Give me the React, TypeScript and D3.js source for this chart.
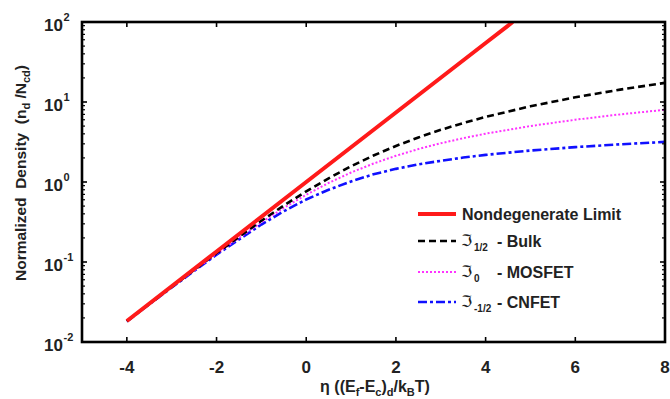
import React from "react";
import * as d3 from "d3";

const etaNondeg = [-4, -2, 0, 2, 4, 4.605];
const valNondeg = [0.0183, 0.1353, 1, 7.389, 54.6, 100];

const etaGrid = [-4, -3, -2, -1, -0.5, 0, 0.5, 1, 1.5, 2, 2.5, 3, 3.5, 4, 5, 6, 7, 8];
const valBulk = [0.0182, 0.0489, 0.1293, 0.3278, 0.5075, 0.7651, 1.112, 1.5756, 2.142, 2.8241, 3.604, 4.4881, 5.453, 6.5115, 8.844, 11.447, 14.29, 17.35];
const valMosfet = [0.0182, 0.0486, 0.1269, 0.3133, 0.4741, 0.6931, 0.9741, 1.3133, 1.7014, 2.1269, 2.5789, 3.0486, 3.5297, 4.0181, 5.0067, 6.0025, 7.0009, 8.0003];
const valCnfet = [0.0181, 0.0481, 0.1237, 0.294, 0.431, 0.6049, 0.80, 1.017, 1.25, 1.46, 1.66, 1.84, 2.02, 2.183, 2.474, 2.729, 2.958, 3.17];

const xTicks = [-4, -2, 0, 2, 4, 6, 8];
const yTickExps = [-2, -1, 0, 1, 2];

const W = 670, H = 399;
const left = 82, right = 665, top = 22, bottom = 342;

export default function App() {
  const x = d3.scaleLinear().domain([-5, 8]).range([left, right]);
  const y = d3.scaleLog().domain([1e-2, 1e2]).range([bottom, top]);
  const line = d3.line<[number, number]>().x(d => x(d[0])).y(d => y(d[1]));

  const nondeg = etaNondeg.map((e, i) => [e, valNondeg[i]] as [number, number]);
  const bulk = etaGrid.map((e, i) => [e, valBulk[i]] as [number, number]);
  const mos = etaGrid.map((e, i) => [e, valMosfet[i]] as [number, number]);
  const cn = etaGrid.map((e, i) => [e, valCnfet[i]] as [number, number]);

  const minor: number[] = [];
  for (let p = -2; p < 2; p++) for (let k = 2; k <= 9; k++) minor.push(k * Math.pow(10, p));

  const font = "Arial, 'Liberation Sans', sans-serif";
  const legendX0 = 418, legendX1 = 456, legendTextX = 462, legendDashX = 497;
  const legendRows = [214, 241, 272, 302];
  const subs = ["1/2", "0", "-1/2"];
  const names = ["- Bulk", "- MOSFET", "- CNFET"];

  return (
    <svg width={W} height={H} style={{ position: "absolute", left: 0, top: 0 }} fontFamily={font}>
      <rect x={0} y={0} width={W} height={H} fill="#fff" />
      <defs>
        <clipPath id="plot">
          <rect x={left} y={top} width={right - left} height={bottom - top} />
        </clipPath>
      </defs>
      <g clipPath="url(#plot)" fill="none">
        <path d={line(cn)!} stroke="#1010ff" strokeWidth={2.6} strokeDasharray="9,3,3,3" />
        <path d={line(mos)!} stroke="#ff33ff" strokeWidth={2} strokeDasharray="2,2" />
        <path d={line(bulk)!} stroke="#000" strokeWidth={2.6} strokeDasharray="7,4" />
        <path d={line(nondeg)!} stroke="#ff1a1a" strokeWidth={4} />
      </g>
      {minor.map((v, i) => (
        <g key={"m" + i} stroke="#000" strokeWidth={1.2}>
          <line x1={left} x2={left + 3} y1={y(v)} y2={y(v)} />
          <line x1={right} x2={right - 3} y1={y(v)} y2={y(v)} />
        </g>
      ))}
      {yTickExps.map(p => (
        <g key={"y" + p}>
          <line x1={left} x2={left + 5} y1={y(Math.pow(10, p))} y2={y(Math.pow(10, p))} stroke="#000" strokeWidth={1.6} />
          <line x1={right} x2={right - 5} y1={y(Math.pow(10, p))} y2={y(Math.pow(10, p))} stroke="#000" strokeWidth={1.6} />
          <text x={63} y={y(Math.pow(10, p)) + 9} fontSize={17} fontWeight="bold" textAnchor="end" fill="#222">10</text>
          <text x={63.5} y={y(Math.pow(10, p)) - 1} fontSize={11} fontWeight="bold" textAnchor="start" fill="#222">{p}</text>
        </g>
      ))}
      {xTicks.map(t => (
        <g key={"x" + t}>
          {t < 8 && <line x1={x(t)} x2={x(t)} y1={bottom} y2={bottom - 5} stroke="#000" strokeWidth={1.6} />}
          {t < 8 && <line x1={x(t)} x2={x(t)} y1={top} y2={top + 5} stroke="#000" strokeWidth={1.6} />}
          <text x={x(t)} y={373} fontSize={17} fontWeight="bold" textAnchor="middle" fill="#222">{t}</text>
        </g>
      ))}
      <rect x={left} y={top} width={right - left} height={bottom - top} fill="none" stroke="#000" strokeWidth={2.6} />
      {/* legend */}
      <line x1={legendX0} x2={legendX1} y1={legendRows[0]} y2={legendRows[0]} stroke="#ff1a1a" strokeWidth={4} />
      <line x1={legendX0} x2={legendX1} y1={legendRows[1]} y2={legendRows[1]} stroke="#000" strokeWidth={2.6} strokeDasharray="7,4" />
      <line x1={legendX0} x2={legendX1} y1={legendRows[2]} y2={legendRows[2]} stroke="#ff33ff" strokeWidth={2} strokeDasharray="2,2" />
      <line x1={legendX0} x2={legendX1} y1={legendRows[3]} y2={legendRows[3]} stroke="#1010ff" strokeWidth={2.6} strokeDasharray="9,3,3,3" />
      <g fontSize={16} fontWeight="bold" fill="#222">
        <text x={legendTextX} y={legendRows[0] + 6}>Nondegenerate Limit</text>
        {subs.map((s, i) => (
          <g key={s}>
            <text x={legendTextX - 1} y={legendRows[i + 1] + 5} fontWeight="normal" fontFamily="DejaVu Sans" fontSize={16}>ℑ</text>
            <text x={legendTextX + 12} y={legendRows[i + 1] + 10} fontSize={10}>{s}</text>
            <text x={legendDashX} y={legendRows[i + 1] + 6}>{names[i]}</text>
          </g>
        ))}
      </g>
      {/* axis labels */}
      <text x={375} y={392} fontSize={16} fontWeight="bold" textAnchor="middle" fill="#222">
        η ((E<tspan fontSize={11} dy={4}>f</tspan><tspan dy={-4}>-E</tspan><tspan fontSize={11} dy={4}>c</tspan><tspan dy={-4}>)</tspan><tspan fontSize={11} dy={4}>d</tspan><tspan dy={-4}>/k</tspan><tspan fontSize={11} dy={4}>B</tspan><tspan dy={-4}>T)</tspan>
      </text>
      <text transform={`translate(26,173) rotate(-90)`} fontSize={15.5} fontWeight="bold" textAnchor="middle" fill="#222" style={{ whiteSpace: "pre" }}>
        {"Normalized  Density  (n"}<tspan fontSize={11} dy={4}>d</tspan><tspan dy={-4}>{" /N"}</tspan><tspan fontSize={11} dy={4}>cd</tspan><tspan dy={-4}>)</tspan>
      </text>
    </svg>
  );
}
